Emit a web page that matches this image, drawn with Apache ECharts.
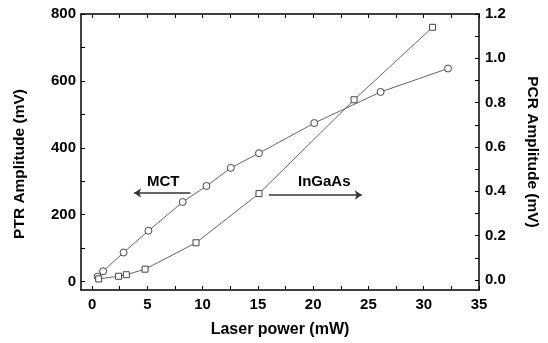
<!DOCTYPE html>
<html>
<head>
<meta charset="utf-8">
<script src="https://cdn.jsdelivr.net/npm/echarts@6/dist/echarts.min.js"></script>
<style>html,body{margin:0;padding:0;background:#fff}#c{width:548px;height:343px}</style>
</head>
<body>
<div id="c"></div>
<script>
const mctX = [0.5, 1.0, 2.85, 5.1, 8.2, 10.35, 12.55, 15.1, 20.1, 26.1, 32.2];
const mctY = [15, 31, 87, 152, 238, 286, 340, 384, 474, 567, 637];
const ingaasX = [0.6, 2.4, 3.1, 4.8, 9.4, 15.1, 23.7, 30.8];
const ingaasY = [0.005, 0.017, 0.024, 0.049, 0.168, 0.39, 0.813, 1.14];
const xTicks = [0, 2.5, 5, 7.5, 10, 12.5, 15, 17.5, 20, 22.5, 25, 27.5, 30, 32.5, 35];
const xLabels = [0, 5, 10, 15, 20, 25, 30, 35];
const leftTicks = [0, 100, 200, 300, 400, 500, 600, 700, 800];
const leftLabels = [0, 200, 400, 600, 800];
const rightTicks = [0, 0.1, 0.2, 0.3, 0.4, 0.5, 0.6, 0.7, 0.8, 0.9, 1.0, 1.1, 1.2];
const rightLabels = [0, 0.2, 0.4, 0.6, 0.8, 1.0, 1.2];
const annoText = [{name: 'MCT', coord: [6.43, 299]}, {name: 'InGaAs', coord: [21.0, 299]}];
const annoArrows = [[[8.9, 265], [3.8, 265]], [[16.0, 259], [24.4, 259]]];

const font = 'Liberation Sans, Arial, sans-serif';
const lab = {color: '#000', fontFamily: font, fontWeight: 'bold', fontSize: 15};
const nameLab = {color: '#000', fontFamily: font, fontWeight: 'bold', fontSize: 15.5};
const axLine = {show: true, onZero: false, lineStyle: {color: '#000', width: 1.5}};
const tick = {show: true, inside: true, length: 4, lineStyle: {color: '#000', width: 1}};

const chart = echarts.init(document.getElementById('c'));
chart.setOption({
  animation: false,
  backgroundColor: '#fff',
  grid: {left: 81, right: 65, top: 14, bottom: 52, containLabel: false},
  xAxis: [{
    type: 'value', min: -1, max: 35, position: 'bottom',
    name: 'Laser power (mW)', nameLocation: 'middle', nameGap: 32,
    nameTextStyle: Object.assign({}, nameLab, {fontSize: 16, verticalAlign: 'top'}),
    axisLine: axLine,
    axisTick: Object.assign({}, tick, {customValues: xTicks}),
    axisLabel: Object.assign({}, lab, {customValues: xLabels, margin: 7}),
    splitLine: {show: false}
  }, {
    type: 'value', min: -1, max: 35, position: 'top',
    axisLine: axLine,
    axisTick: Object.assign({}, tick, {customValues: xTicks}),
    axisLabel: {show: false},
    splitLine: {show: false}
  }],
  yAxis: [{
    type: 'value', min: -25, max: 800, position: 'left',
    name: 'PTR Amplitude (mV)', nameLocation: 'middle', nameGap: 53,
    nameTextStyle: Object.assign({}, nameLab, {padding: [0, 24, 0, 0]}),
    axisLine: axLine,
    axisTick: Object.assign({}, tick, {customValues: leftTicks}),
    axisLabel: Object.assign({}, lab, {customValues: leftLabels, margin: 5}),
    splitLine: {show: false}
  }, {
    type: 'value', min: -0.045, max: 1.2, position: 'right',
    name: 'PCR Amplitude (mV)', nameLocation: 'middle', nameGap: 45, nameRotate: -90,
    nameTextStyle: nameLab,
    axisLine: axLine,
    axisTick: Object.assign({}, tick, {customValues: rightTicks}),
    axisLabel: Object.assign({}, lab, {customValues: rightLabels, margin: 6, formatter: v => v.toFixed(1)}),
    splitLine: {show: false}
  }],
  series: [{
    type: 'line', xAxisIndex: 0, yAxisIndex: 0,
    data: mctX.map((x, i) => [x, mctY[i]]),
    symbol: 'circle', symbolSize: 7,
    lineStyle: {color: '#666', width: 1},
    itemStyle: {color: '#fff', borderColor: '#444', borderWidth: 1},
    markLine: {
      silent: true, symbol: ['none', 'arrow'], symbolSize: 7,
      lineStyle: {color: '#333', width: 1.5, type: 'solid'},
      label: {show: false},
      data: annoArrows.map(a => [{coord: a[0]}, {coord: a[1]}])
    },
    markPoint: {
      silent: true, symbol: 'rect', symbolSize: 1,
      itemStyle: {color: 'rgba(0,0,0,0)'},
      label: Object.assign({}, lab, {show: true, position: 'inside', formatter: p => p.name}),
      data: annoText.map(t => ({name: t.name, coord: t.coord}))
    }
  }, {
    type: 'line', xAxisIndex: 0, yAxisIndex: 1,
    data: ingaasX.map((x, i) => [x, ingaasY[i]]),
    symbol: 'rect', symbolSize: 6,
    lineStyle: {color: '#666', width: 1},
    itemStyle: {color: '#fff', borderColor: '#444', borderWidth: 1}
  }]
});
</script>
</body>
</html>
